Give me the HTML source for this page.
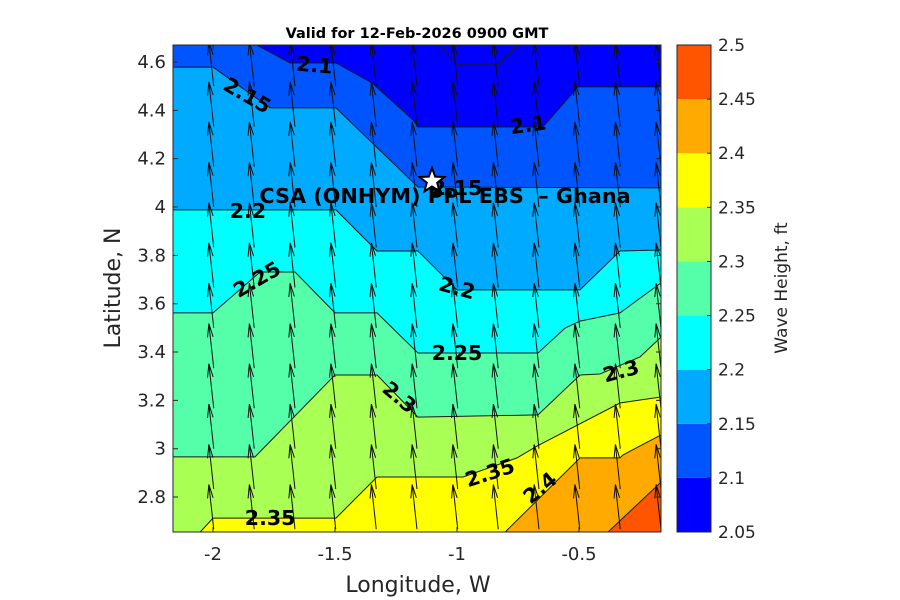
<!DOCTYPE html>
<html><head><meta charset="utf-8">
<style>
html,body{margin:0;padding:0;background:#fff;}
svg{display:block;font-family:"DejaVu Sans","Liberation Sans",sans-serif;}
</style></head>
<body>
<svg id="chart" width="900" height="600" viewBox="0 0 900 600">
<defs><clipPath id="clip"><rect x="173" y="45" width="488" height="487"/></clipPath></defs>
<g id="fills" clip-path="url(#clip)"></g>
<g id="lines" clip-path="url(#clip)"></g>
<g id="arrows" clip-path="url(#clip)"></g>
<g id="labels"></g>
<rect x="173" y="45" width="488" height="487" fill="none" stroke="#262626" stroke-width="1"/>
<g id="axes"></g>
<text x="417" y="38" text-anchor="middle" font-size="14.5" font-weight="bold">Valid for 12-Feb-2026 0900 GMT</text>
<text x="418" y="592" text-anchor="middle" font-size="22" fill="#262626">Longitude, W</text>
<text transform="translate(120,288) rotate(-90)" text-anchor="middle" font-size="22" fill="#262626">Latitude, N</text>
<text transform="translate(787,288) rotate(-90)" text-anchor="middle" font-size="17" fill="#262626">Wave Height, ft</text>
<g id="cbar"></g>
<g>
<polygon id="star" fill="#fff" stroke="#000" stroke-width="2"/>
<text x="445" y="203" text-anchor="middle" font-size="20.8" font-weight="bold" style="white-space:pre">CSA (ONHYM) PPL EBS  – Ghana</text>
</g>
</svg>
<script>
// Contour levels and their band colours
const levels = [2.05, 2.10, 2.15, 2.20, 2.25, 2.30, 2.35, 2.40, 2.45, 2.50];
const bandColors = ['#0000FF','#0055FF','#00AAFF','#00FFFF','#55FFAA','#AAFF55','#FFFF00','#FFAA00','#FF5500'];
// Contour line vertices (lon, lat)
const c205Lon = [-1.070,-1.000,-0.832,-0.750];
const c205Lat = [4.670,4.588,4.588,4.670];
const c210Lon = [-1.820,-1.684,-1.496,-1.348,-1.180,-1.160,-0.648,-0.504,-0.164];
const c210Lat = [4.670,4.596,4.596,4.513,4.360,4.331,4.331,4.497,4.497];
const c215Lon = [-2.164,-2.000,-1.766,-1.496,-1.160,-0.164];
const c215Lat = [4.579,4.579,4.410,4.410,4.083,4.079];
const c220Lon = [-2.164,-1.496,-1.328,-1.160,-1.000,-0.496,-0.332,-0.164];
const c220Lat = [3.988,3.988,3.818,3.818,3.657,3.657,3.818,3.822];
const c225Lon = [-2.164,-2.000,-1.807,-1.664,-1.500,-1.328,-1.160,-0.668,-0.557,-0.496,-0.332,-0.164];
const c225Lat = [3.562,3.562,3.731,3.731,3.562,3.562,3.396,3.396,3.499,3.528,3.562,3.686];
const c230Lon = [-2.164,-1.828,-1.500,-1.328,-1.160,-0.668,-0.496,-0.414,-0.250,-0.164];
const c230Lat = [2.966,2.966,3.305,3.305,3.131,3.140,3.305,3.309,3.380,3.462];
const c235Lon = [-2.053,-2.000,-1.496,-1.328,-0.975,-0.754,-0.672,-0.332,-0.164];
const c235Lat = [2.655,2.713,2.713,2.883,2.883,2.962,3.011,3.189,3.214];
const c240Lon = [-0.803,-0.496,-0.332,-0.320,-0.164];
const c240Lat = [2.655,2.962,2.962,2.974,3.057];
const c245Lon = [-0.381,-0.164];
const c245Lat = [2.655,2.862];
// Quiver grid and vector
const gridLon = [-2.164,-1.997,-1.831,-1.664,-1.497,-1.331,-1.164,-0.997,-0.831,-0.664,-0.497,-0.331,-0.164];
const gridLat = [2.667,2.833,3.000,3.167,3.333,3.500,3.667,3.833,4.000,4.167,4.333,4.500,4.667,4.833];
const windU = -0.02, windV = 0.185;
// Ticks
const xTicks = [-2,-1.5,-1,-0.5];
const xTickLabels = ['-2','-1.5','-1','-0.5'];
const yTicks = [2.8,3,3.2,3.4,3.6,3.8,4,4.2,4.4,4.6];
const yTickLabels = ['2.8','3','3.2','3.4','3.6','3.8','4','4.2','4.4','4.6'];
const cbTickLabels = ['2.05','2.1','2.15','2.2','2.25','2.3','2.35','2.4','2.45','2.5'];
// Contour labels: text, lon, lat, rotation
const labText = ['2.1','2.15','2.1','2.15','2.2','2.2','2.25','2.25','2.3','2.3','2.35','2.35','2.4'];
const labLon = [-1.584,-1.860,-0.709,-1.000,-1.857,-1.000,-1.820,-1.000,-1.236,-0.328,-0.865,-1.766,-0.660];
const labLat = [4.587,4.462,4.340,4.079,3.984,3.665,3.700,3.396,3.213,3.321,2.900,2.713,2.838];
const labRot = [5,30,-8,0,0,15,-30,0,40,-15,-18,0,-40];

const NS='http://www.w3.org/2000/svg';
const X = lon => 213 + (lon + 2) * 244;
const Y = lat => 62 + (4.6 - lat) * 241.7;
const L = 173, R = 661, T = 45, B = 532;
function mk(tag, parent){const e=document.createElementNS(NS,tag);parent.appendChild(e);return e;}
const pts = (lo,la) => lo.map((v,i)=>X(v).toFixed(1)+','+Y(la[i]).toFixed(1));

const fills=document.getElementById('fills');
let bg=mk('rect',fills);
bg.setAttribute('x',L);bg.setAttribute('y',T);bg.setAttribute('width',R-L);bg.setAttribute('height',B-T);
bg.setAttribute('fill',bandColors[0]);



const contours = [
 {lo:c210Lon,la:c210Lat,band:1,extra:[[R,B],[L,B],[L,T]],name:'band-2-10'},
 {lo:c215Lon,la:c215Lat,band:2,extra:[[R,B],[L,B]],name:'band-2-15'},
 {lo:c220Lon,la:c220Lat,band:3,extra:[[R,B],[L,B]],name:'band-2-20'},
 {lo:c225Lon,la:c225Lat,band:4,extra:[[R,B],[L,B]],name:'band-2-25'},
 {lo:c230Lon,la:c230Lat,band:5,extra:[[R,B],[L,B]],name:'band-2-30'},
 {lo:c235Lon,la:c235Lat,band:6,extra:[[R,B],[L,B]],name:'band-2-35'},
 {lo:c240Lon,la:c240Lat,band:7,extra:[[R,B]],name:'band-2-40'},
 {lo:c245Lon,la:c245Lat,band:8,extra:[[R,B]],name:'band-2-45'}
];
const lines=document.getElementById('lines');
contours.forEach(c=>{
  const p=pts(c.lo,c.la).concat(c.extra.map(q=>q.join(',')));
  const poly=mk('polygon',fills);
  poly.setAttribute('points',p.join(' '));
  poly.setAttribute('fill',bandColors[c.band]);
  
  
});
[[c205Lon,c205Lat],[c210Lon,c210Lat],[c215Lon,c215Lat],[c220Lon,c220Lat],[c225Lon,c225Lat],[c230Lon,c230Lat],[c235Lon,c235Lat],[c240Lon,c240Lat],[c245Lon,c245Lat]].forEach(([lo,la])=>{
  const pl=mk('polyline',lines);
  pl.setAttribute('points',pts(lo,la).join(' '));
  pl.setAttribute('fill','none');pl.setAttribute('stroke','#1a1a1a');pl.setAttribute('stroke-width','1');
  
  
});

// arrows
const arrows=document.getElementById('arrows');
gridLon.forEach(lo=>gridLat.forEach(la=>{
  const x1=X(lo),y1=Y(la),x2=X(lo+windU),y2=Y(la+windV);
  const ang=Math.atan2(y2-y1,x2-x1);
  const hl=14, ha=0.2;
  const d=`M${x1},${y1}L${x2},${y2}M${x2-hl*Math.cos(ang-ha)},${y2-hl*Math.sin(ang-ha)}L${x2},${y2}L${x2-hl*Math.cos(ang+ha)},${y2-hl*Math.sin(ang+ha)}`;
  const p=mk('path',arrows);
  p.setAttribute('d',d);p.setAttribute('fill','none');p.setAttribute('stroke','#111');p.setAttribute('stroke-width','1');
  
  
}));

// contour labels
const labels=document.getElementById('labels');
labText.forEach((t,i)=>{
  const e=mk('text',labels);
  e.setAttribute('transform',`translate(${X(labLon[i]).toFixed(1)},${Y(labLat[i]).toFixed(1)}) rotate(${labRot[i]})`);
  e.setAttribute('text-anchor','middle');e.setAttribute('dy','7');
  e.setAttribute('font-size','20.5');e.setAttribute('font-weight','bold');
  e.textContent=t;
  
  
});

// axes ticks
const axes=document.getElementById('axes');
xTicks.forEach((v,i)=>{
  const x=X(v);
  const t=mk('path',axes);t.setAttribute('d',`M${x},${B}V${B-5}M${x},${T}V${T+5}`);t.setAttribute('stroke','#262626');
  
  
  const l=mk('text',axes);l.setAttribute('x',x);l.setAttribute('y',560);l.setAttribute('text-anchor','middle');
  l.setAttribute('font-size','18');l.setAttribute('fill','#262626');l.textContent=xTickLabels[i];
  
  
});
yTicks.forEach((v,i)=>{
  const y=Y(v);
  const t=mk('path',axes);t.setAttribute('d',`M${L},${y}H${L+5}M${R},${y}H${R-5}`);t.setAttribute('stroke','#262626');
  
  
  const l=mk('text',axes);l.setAttribute('x',166);l.setAttribute('y',y+6);l.setAttribute('text-anchor','end');
  l.setAttribute('font-size','18');l.setAttribute('fill','#262626');l.textContent=yTickLabels[i];
  
  
});

// colorbar
const cbar=document.getElementById('cbar');
const cbX=677,cbW=34,cbT=45,cbB=532;
const cbY=v=>cbB-(v-levels[0])/(levels[levels.length-1]-levels[0])*(cbB-cbT);
bandColors.forEach((c,i)=>{
  const r=mk('rect',cbar);
  r.setAttribute('x',cbX);r.setAttribute('y',cbY(levels[i+1]));r.setAttribute('width',cbW);
  r.setAttribute('height',cbY(levels[i])-cbY(levels[i+1]));r.setAttribute('fill',c);
  
  
});
const fr=mk('rect',cbar);fr.setAttribute('x',cbX);fr.setAttribute('y',cbT);fr.setAttribute('width',cbW);fr.setAttribute('height',cbB-cbT);
fr.setAttribute('fill','none');fr.setAttribute('stroke','#262626');


levels.forEach((v,i)=>{
  const y=cbY(v);
  const t=mk('path',cbar);t.setAttribute('d',`M${cbX+cbW},${y}H${cbX+cbW-4}`);t.setAttribute('stroke','#262626');
  
  
  const l=mk('text',cbar);l.setAttribute('x',718);l.setAttribute('y',y+6);
  l.setAttribute('font-size','17');l.setAttribute('fill','#262626');l.textContent=cbTickLabels[i];
  
  
});

// star
const sx=432,sy=181,ro=13,ri=5.5;let sp=[];
for(let k=0;k<10;k++){const a=-Math.PI/2+k*Math.PI/5;const r=k%2?ri:ro;sp.push((sx+r*Math.cos(a)).toFixed(1)+','+(sy+r*Math.sin(a)).toFixed(1));}
document.getElementById('star').setAttribute('points',sp.join(' '));
</script>
</body></html>
